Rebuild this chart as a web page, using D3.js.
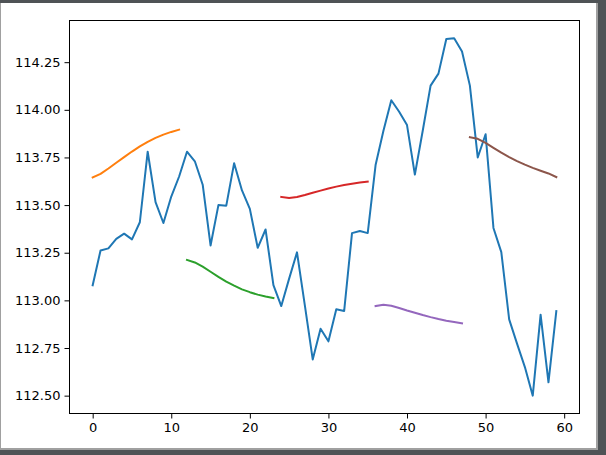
<!DOCTYPE html>
<html><head><meta charset="utf-8">
<script src="https://cdn.jsdelivr.net/npm/d3@7"></script>
<style>html,body{margin:0;padding:0;background:#4f5356;overflow:hidden}</style>
</head><body>
<svg id="c" width="606" height="455"></svg>
<script>
const actual = [113.079,113.262,113.273,113.323,113.35,113.32,113.41,113.78,113.516,113.406,113.545,113.65,
113.78,113.73,113.607,113.288,113.50,113.497,113.72,113.577,113.48,113.276,113.372,113.08,
112.97,113.114,113.252,112.974,112.69,112.851,112.785,112.953,112.944,113.353,113.364,113.353,
113.71,113.89,114.05,113.99,113.92,113.66,113.89,114.127,114.19,114.372,114.376,114.306,
114.127,113.75,113.872,113.38,113.253,112.90,112.773,112.65,112.50,112.925,112.57,112.944];
const fc1 = [113.645,113.664,113.692,113.722,113.752,113.781,113.808,113.832,113.853,113.870,113.884,113.896];
const fc2 = [113.212,113.199,113.177,113.150,113.123,113.098,113.077,113.058,113.043,113.030,113.020,113.012];
const fc3 = [113.543,113.537,113.542,113.553,113.565,113.576,113.587,113.597,113.605,113.612,113.618,113.623];
const fc4 = [112.970,112.977,112.972,112.960,112.947,112.935,112.923,112.912,112.902,112.893,112.886,112.879];
const fc5 = [113.856,113.848,113.826,113.800,113.775,113.752,113.731,113.712,113.695,113.680,113.666,113.647];
const fcStarts = [0,12,24,36,48];
const xTicks = [0,10,20,30,40,50,60];
const yTicks = [112.50,112.75,113.00,113.25,113.50,113.75,114.00,114.25];
const colors = ["#1f77b4","#ff7f0e","#2ca02c","#d62728","#9467bd","#8c564b"];

const svg = d3.select("#c");
// window frame
svg.append("rect").attr("x",0).attr("y",3).attr("width",598).attr("height",447).attr("fill","#a0a0a0");
svg.append("rect").attr("x",1).attr("y",3).attr("width",595).attr("height",445).attr("fill","#ffffff");

const L=69.5, R=579.5, T=20.5, B=413.5;
const x = d3.scaleLinear().domain([-2.95,61.95]).range([L,R]);
const y = d3.scaleLinear().domain([112.4063,114.4687]).range([B,T]);

const g = svg.append("g");
const clip = svg.append("clipPath").attr("id","clp").append("rect").attr("x",L).attr("y",T).attr("width",R-L).attr("height",B-T);
const plot = g.append("g").attr("clip-path","url(#clp)");
const line = d3.line().x(d=>x(d[0])).y(d=>y(d[1]));

plot.append("path").datum(actual.map((v,i)=>[i,v])).attr("d",line)
  .attr("fill","none").attr("stroke",colors[0]).attr("stroke-width",2).attr("stroke-linejoin","round").attr("stroke-linecap","square");
[fc1,fc2,fc3,fc4,fc5].forEach((s,k)=>{
  plot.append("path").datum(s.map((v,i)=>[fcStarts[k]+i,v])).attr("d",line)
    .attr("fill","none").attr("stroke",colors[k+1]).attr("stroke-width",2).attr("stroke-linejoin","round").attr("stroke-linecap","square");
});

const font = "DejaVu Sans, sans-serif";
const xAxis = g.append("g").attr("transform",`translate(0,${B})`)
  .call(d3.axisBottom(x).tickValues(xTicks).tickFormat(d3.format("d")).tickSize(5).tickPadding(4));
const yAxis = g.append("g").attr("transform",`translate(${L},0)`)
  .call(d3.axisLeft(y).tickValues(yTicks).tickFormat(d3.format(".2f")).tickSize(5).tickPadding(4));
[xAxis,yAxis].forEach(a=>{
  a.select(".domain").remove();
  a.selectAll("line").attr("stroke","#000").attr("stroke-width",1);
  a.selectAll("text").attr("font-family",font).attr("font-size","13px").attr("fill","#000");
});
g.append("rect").attr("x",L).attr("y",T).attr("width",R-L).attr("height",B-T)
  .attr("fill","none").attr("stroke","#000").attr("stroke-width",1);
</script>
</body></html>
